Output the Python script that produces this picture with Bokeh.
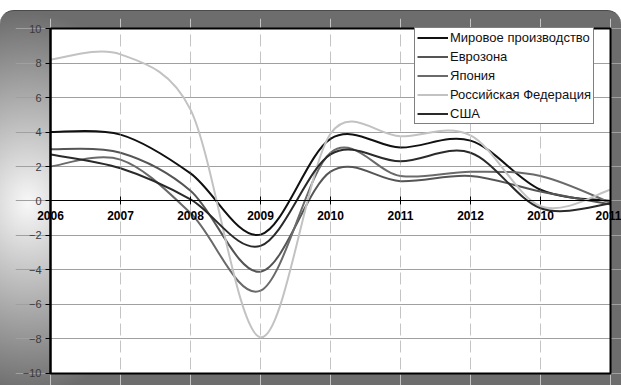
import numpy as np
from bokeh.plotting import figure
from bokeh.models import Range1d, FixedTicker, Legend, LegendItem
from bokeh.embed import file_html
from bokeh.resources import INLINE

years = ["2006", "2007", "2008", "2009", "2010", "2011", "2012", "2010", "2011"]
world = [4.0, 3.85, 1.6, -1.95, 3.6, 3.1, 3.5, 0.65, 0.0]
euro = [3.0, 2.8, 0.6, -4.1, 1.7, 1.15, 1.45, 0.55, -0.2]
japan = [2.0, 2.4, -0.7, -5.2, 2.8, 1.45, 1.7, 1.45, -0.1]
russia = [8.2, 8.5, 5.3, -7.9, 3.9, 3.75, 3.8, -0.3, 0.65]
usa = [2.7, 1.9, 0.1, -2.6, 2.7, 2.3, 2.8, -0.42, -0.15]

names = ["Мировое производство", "Еврозона", "Япония", "Российская Федерация", "США"]
series = [world, euro, japan, russia, usa]
colors = ["#111111", "#555555", "#6a6a6a", "#c2c2c2", "#2a2a2a"]
y_ticks = list(range(-10, 11, 2))

SX, SY = 70.0, 17.25  # approx. pixels per x category / per y unit (for smoothing)


def smooth_segments(vals):
    """Excel-like smoothed line: cubic Bezier control points from neighbours."""
    y = np.asarray(vals, dtype=float)
    x = np.arange(len(y), dtype=float)
    n = len(y)
    X = np.concatenate([[x[0]], x, [x[-1]]])
    Y = np.concatenate([[y[0]], y, [y[-1]]])
    out = {k: [] for k in ("x0", "y0", "x1", "y1", "cx0", "cy0", "cx1", "cy1")}

    def dist(a, b):
        return np.hypot((X[a] - X[b]) * SX, (Y[a] - Y[b]) * SY)

    for i in range(n - 1):
        i0, i1, i2, i3 = i, i + 1, i + 2, i + 3
        d12, d02, d13 = dist(i1, i2), dist(i0, i2), dist(i1, i3)
        f0 = f1 = 1.0 / 6.0
        if d02 > 0 and d02 * f0 > d12 / 2:
            f0 = d12 / (2 * d02)
        if d13 > 0 and d13 * f1 > d12 / 2:
            f1 = d12 / (2 * d13)
        out["x0"].append(X[i1]); out["y0"].append(Y[i1])
        out["x1"].append(X[i2]); out["y1"].append(Y[i2])
        out["cx0"].append(X[i1] + f0 * (X[i2] - X[i0]))
        out["cy0"].append(Y[i1] + f0 * (Y[i2] - Y[i0]))
        out["cx1"].append(X[i2] - f1 * (X[i3] - X[i1]))
        out["cy1"].append(Y[i2] - f1 * (Y[i3] - Y[i1]))
    return out


x_lo, x_hi = 0, len(years) - 1
y_lo, y_hi = y_ticks[0], y_ticks[-1]

# the frame is a bit larger than the plot area so that axis texts are not clipped
p = figure(width=621, height=375, output_backend="svg", toolbar_location=None,
           x_range=Range1d(x_lo - 0.5, x_hi + 0.157),
           y_range=Range1d(y_lo - 0.754, y_hi + 0.58),
           min_border_left=15, min_border_top=7, min_border_right=0,
           min_border_bottom=0)
p.styles = {
    "margin": "10px 0 0 0",
    "background": "radial-gradient(150px 190px at 28px 192px, #f8f8f8 0%, #6d6d6d 100%)",
    "border-radius": "14px 14px 0 0",
    "border-top": "1px solid #4a4a4a",
}
p.border_fill_color = None
p.background_fill_color = None
p.outline_line_color = None

# white plot area (below the grid) and its black border (on top)
p.quad(left=x_lo, right=x_hi, bottom=y_lo, top=y_hi, fill_color="white",
       line_color=None, level="image")
p.quad(left=x_lo, right=x_hi, bottom=y_lo, top=y_hi, fill_color=None,
       line_color="black", line_width=2, level="overlay")

# x axis crossing at zero
p.xaxis.fixed_location = 0
p.xaxis.bounds = (x_lo, x_hi)
p.xaxis.ticker = FixedTicker(ticks=list(range(len(years))))
p.xaxis.major_label_overrides = {i: y for i, y in enumerate(years)}
p.xaxis.major_label_text_font = "Liberation Sans"
p.xaxis.major_label_text_font_style = "bold"
p.xaxis.major_label_text_font_size = "12px"
p.xaxis.major_label_text_color = "black"
p.xaxis.major_tick_in = 4
p.xaxis.major_tick_out = 4
p.xaxis.minor_tick_line_color = None
p.xaxis.axis_line_color = "black"
p.xaxis.axis_line_width = 1
p.xaxis.major_tick_line_color = "black"
p.xaxis.major_label_standoff = 6

# y axis at the first category
p.yaxis.fixed_location = x_lo
p.yaxis.bounds = (y_lo, y_hi)
p.yaxis.ticker = FixedTicker(ticks=y_ticks)
p.yaxis.major_label_text_font = "Liberation Sans"
p.yaxis.major_label_text_font_size = "11px"
p.yaxis.major_label_text_color = "#3a3a3a"
p.yaxis.major_tick_in = 0
p.yaxis.major_tick_out = 5
p.yaxis.minor_tick_line_color = None
p.yaxis.axis_line_color = "black"
p.yaxis.axis_line_width = 2
p.yaxis.major_tick_line_color = "black"
p.yaxis.major_label_standoff = 4

p.ygrid.ticker = FixedTicker(ticks=y_ticks)
p.ygrid.bounds = (x_lo, x_hi)
p.ygrid.grid_line_color = "#a0a0a0"
p.ygrid.grid_line_width = 1
p.xgrid.ticker = FixedTicker(ticks=list(range(len(years))))
p.xgrid.bounds = (y_lo, y_hi)
p.xgrid.grid_line_color = "#c4c4c4"
p.xgrid.grid_line_dash = "12 5"
p.xgrid.grid_line_width = 1

items = []
for name, vals, col in zip(names, series, colors):
    r = p.bezier(source=smooth_segments(vals), x0="x0", y0="y0", x1="x1", y1="y1",
                 cx0="cx0", cy0="cy0", cx1="cx1", cy1="cy1",
                 line_color=col, line_width=2)
    items.append(LegendItem(label=name, renderers=[r]))

legend = Legend(items=items, location=(399, 262))
legend.border_line_color = "black"
legend.border_line_width = 1
legend.background_fill_color = "white"
legend.background_fill_alpha = 1
legend.label_text_font = "Liberation Sans"
legend.label_text_font_size = "13px"
legend.label_text_color = "#111111"
legend.glyph_width = 31
legend.glyph_height = 13
legend.label_height = 13
legend.spacing = 4
legend.padding = 2
legend.margin = 0
legend.label_standoff = 2
p.add_layout(legend, "center")

open("out.html", "w").write(file_html(p, INLINE))
